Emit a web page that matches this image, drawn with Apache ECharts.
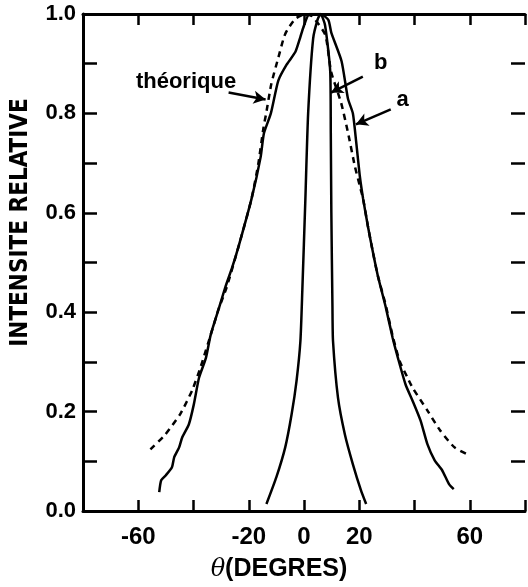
<!DOCTYPE html>
<html>
<head>
<meta charset="utf-8">
<script src="https://cdn.jsdelivr.net/npm/echarts@6/dist/echarts.min.js"></script>
<style>
html,body{margin:0;padding:0;background:#fff;}
#chart{width:528px;height:587px;}
</style>
</head>
<body>
<div id="chart"></div>
<script>
// ---- data (theta in degrees, relative intensity) ----
var curveA = [
  [-52.4,0.038],[-51.7,0.062],[-50,0.072],[-47.8,0.088],[-47,0.108],[-45.2,0.128],
  [-44.1,0.148],[-41.7,0.174],[-39.9,0.214],[-38,0.268],[-35.5,0.308],[-33.8,0.354],
  [-30.8,0.408],[-28.5,0.45],[-26,0.49],[-23.6,0.534],[-19,0.628],[-15.7,0.712],
  [-14.5,0.76],[-12,0.80],[-9.3,0.866],[-6.3,0.898],[-3.1,0.924],[-1.3,0.954],
  [-0.3,0.972],[2,1.0],[6,1.0],[8.8,0.988],[9.9,0.962],[13.6,0.905],[15.9,0.83],
  [17.7,0.80],[18.9,0.742],[20.2,0.674],[21.4,0.628],[23.1,0.574],[24.9,0.522],
  [26.7,0.474],[29.6,0.41],[32.1,0.348],[34,0.308],[36.8,0.254],[39.3,0.222],
  [42.2,0.182],[44.7,0.134],[47.3,0.102],[50,0.082],[52.5,0.054],[54.2,0.044]
];
var curveB = [
  [-13.6,0.014],[-10,0.068],[-6.8,0.128],[-4.5,0.194],[-2.7,0.262],[-1.3,0.342],
  [-0.6,0.445],[0.5,0.628],[1.5,0.80],[3.3,0.95],[5,0.99],[6,1.0],[7.6,0.978],
  [9.5,0.884],[9.7,0.76],[9.9,0.60],[10.3,0.41],[10.5,0.342],[12.3,0.228],
  [14.8,0.154],[17.7,0.094],[20.6,0.042],[22.5,0.014]
];
var curveTheory = [
  [-55.6,0.124],[-50.2,0.154],[-44.7,0.196],[-40.4,0.244],[-37.4,0.29],[-33.8,0.354],
  [-30.8,0.408],[-28,0.45],[-23.6,0.534],[-19,0.628],[-16.5,0.70],[-14.7,0.77],
  [-13.7,0.80],[-11.8,0.86],[-9.3,0.912],[-6.8,0.96],[-3.2,0.99],[0.5,1.0],
  [3,0.995],[7.7,0.958],[9.8,0.884],[13.4,0.822],[15.9,0.762],[18.4,0.694],
  [20.2,0.654],[21.4,0.628],[23.1,0.574],[24.9,0.522],[26.7,0.474],[29.6,0.414],
  [32.1,0.352],[34.6,0.302],[37.5,0.268],[39.3,0.248],[44.7,0.202],[49.3,0.162],
  [54.5,0.128],[59.8,0.112]
];
var xTickLabels = [-60, -20, 0, 20, 60];
var yTickLabels = [0.0, 0.2, 0.4, 0.6, 0.8, 1.0];
// annotations: [text, [textX, textY], [arrowFromX, arrowFromY], [arrowToX, arrowToY]]
var notes = [
  ['théorique', [-42.7, 0.864], [-27.3, 0.842], [-13.9, 0.828]],
  ['b', [27.8, 0.902], [21.3, 0.874], [9.8, 0.842]],
  ['a', [35.7, 0.828], [31.4, 0.808], [18.8, 0.778]]
];

var FONT = '"Liberation Sans", Arial, Helvetica, sans-serif';
var chart = echarts.init(document.getElementById('chart'));
var axisCommon = {
  type: 'value', min: -80, max: 80, interval: 20,
  splitLine: {show: false},
  axisLine: {show: true, onZero: false, lineStyle: {color: '#000', width: 3}},
  axisTick: {show: true, inside: true, length: 11, lineStyle: {color: '#000', width: 2.5}}
};
var option = {
  animation: false,
  backgroundColor: '#fff',
  grid: {left: 83, right: 0, top: 14, bottom: 73},
  xAxis: [
    Object.assign({}, axisCommon, {
      position: 'bottom',
      axisLabel: {
        color: '#000', fontFamily: FONT, fontWeight: 'bold', fontSize: 24, margin: 14,
        formatter: function (v) { return xTickLabels.indexOf(v) >= 0 ? String(v) : ''; }
      },
      name: '{t|θ}{n|(DEGRES)}',
      nameLocation: 'middle', nameGap: 46,
      nameTextStyle: {
        padding: [0, 50, 0, 0],
        rich: {
          t: {fontFamily: '"DejaVu Serif", "Liberation Serif", serif', fontStyle: 'italic', fontSize: 24, color: '#000'},
          n: {fontFamily: FONT, fontWeight: 'bold', fontSize: 25, color: '#000'}
        }
      }
    }),
    Object.assign({}, axisCommon, {position: 'top', axisLabel: {show: false}})
  ],
  yAxis: [
    {
      type: 'value', min: 0, max: 1, interval: 0.1, position: 'left',
      splitLine: {show: false},
      axisLine: {show: true, onZero: false, lineStyle: {color: '#000', width: 3}},
      axisTick: {show: true, inside: true, length: 14, lineStyle: {color: '#000', width: 2.5}},
      axisLabel: {
        color: '#000', fontFamily: FONT, fontWeight: 'bold', fontSize: 22, margin: 7,
        formatter: function (v) {
          var r = Math.round(v * 10) / 10;
          for (var i = 0; i < yTickLabels.length; i++) {
            if (Math.abs(yTickLabels[i] - r) < 1e-6) return r.toFixed(1);
          }
          return '';
        }
      },
      name: 'INTENSITE RELATIVE',
      nameLocation: 'middle', nameGap: 50,
      nameTextStyle: {
        color: '#000', fontFamily: '"Liberation Sans Narrow", "DejaVu Sans Condensed", ' + FONT,
        fontWeight: 'bold', fontSize: 24, padding: [0, 0, 0, 80]
      }
    },
    {
      type: 'value', min: 0, max: 1, interval: 0.1, position: 'right',
      splitLine: {show: false},
      axisLine: {show: false, onZero: false},
      axisTick: {show: true, inside: true, length: 14, lineStyle: {color: '#000', width: 2.5}},
      axisLabel: {show: false}
    }
  ],
  series: [
    {
      name: 'a', type: 'line', data: curveA, showSymbol: false, smooth: 0.2,
      lineStyle: {color: '#000', width: 2.5}, z: 3
    },
    {
      name: 'b', type: 'line', data: curveB, showSymbol: false, smooth: 0.2,
      lineStyle: {color: '#000', width: 2.5}, z: 3
    },
    {
      name: 'théorique', type: 'line', data: curveTheory, showSymbol: false, smooth: 0.2,
      lineStyle: {color: '#000', width: 2.5, type: [6, 5]}, z: 2
    },
    {
      name: 'notes', type: 'scatter', symbolSize: 0, silent: true,
      itemStyle: {opacity: 1, color: '#000'},
      data: notes.map(function (n) { return {name: n[0], value: n[1]}; }),
      label: {
        show: true, position: 'inside', formatter: '{b}', color: '#000', opacity: 1,
        fontFamily: FONT, fontWeight: 'bold', fontSize: 22
      },
      markLine: {
        silent: true, symbol: ['none', 'arrow'], symbolSize: [10, 12],
        label: {show: false},
        lineStyle: {color: '#000', width: 2.5, type: 'solid', opacity: 1},
        data: notes.map(function (n) {
          return [{coord: n[2]}, {coord: n[3]}];
        })
      }
    }
  ]
};
chart.setOption(option);
</script>
</body>
</html>
